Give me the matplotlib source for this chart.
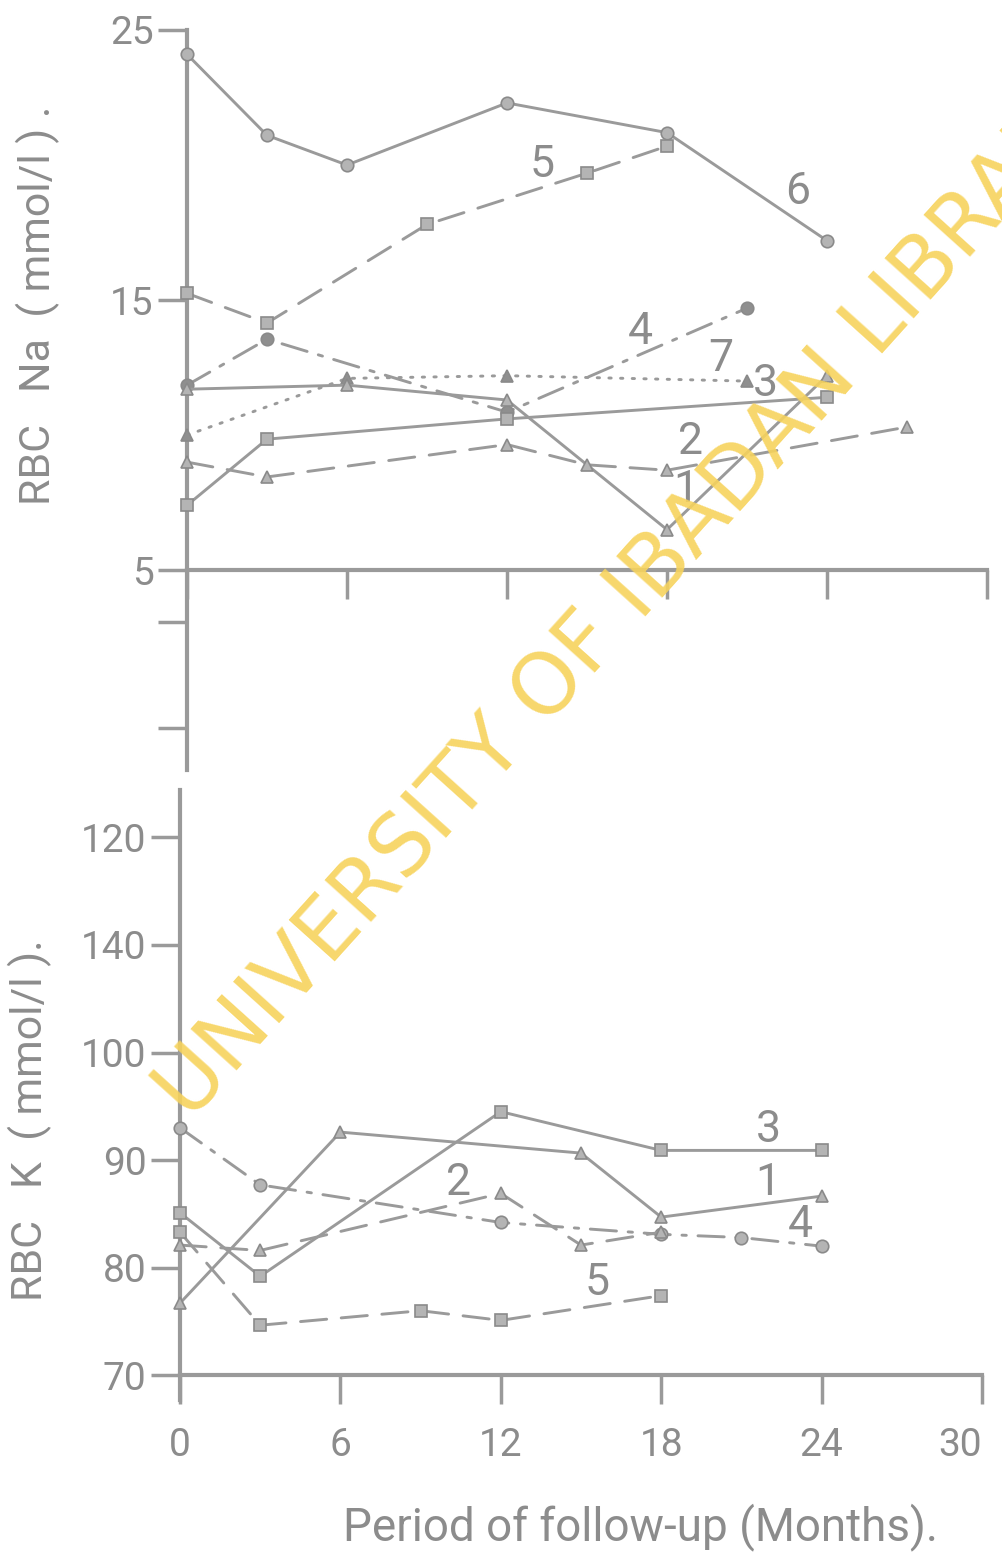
import matplotlib.pyplot as plt

plt.rcParams['font.family'] = ['Roboto', 'DejaVu Sans']

GRAY = '#9a9a9a'
TXT = '#8c8c8c'

# ---- RBC Na (mmol/l) ----
na1_m = [0, 6, 12, 18, 24];          na1 = [11.7, 11.85, 11.3, 6.5, 12.2]
na2_m = [0, 3, 12, 15, 18, 27];      na2 = [9.0, 8.45, 9.65, 8.9, 8.7, 10.3]
na3_m = [0, 3, 12, 24];              na3 = [7.4, 9.85, 10.6, 11.4]
na4_m = [0, 3, 12, 21];              na4 = [11.85, 13.55, 10.85, 14.7]
na5_m = [0, 3, 9, 15, 18];           na5 = [15.25, 14.15, 17.8, 19.7, 20.7]
na6_m = [0, 3, 6, 12, 18, 24];       na6 = [24.1, 21.1, 20.0, 22.3, 21.2, 17.2]
na7_m = [0, 6, 12, 21];              na7 = [10.0, 12.1, 12.2, 12.0]

# ---- RBC K (mmol/l) ----
k1_m = [0, 6, 15, 18, 24];           k1 = [76.7, 92.6, 90.65, 84.7, 86.65]
k2_m = [0, 3, 12, 15, 18];           k2 = [82.1, 81.6, 86.9, 82.1, 83.3]
k3_m = [0, 3, 12, 18, 24];           k3 = [85.1, 79.2, 94.5, 90.9, 90.9]
k4_m = [0, 3, 12, 18, 21, 24];       k4 = [93.0, 87.7, 84.2, 83.1, 82.8, 82.0]
k5_m = [0, 3, 9, 12, 18];            k5 = [83.3, 74.65, 76.0, 75.1, 77.4]

x_ticks = [0, 6, 12, 18, 24, 30]
na_ticks = [25, 15, 5, 3.07, -0.85]
na_ticklabels = ['25', '15', '5', '', '']
k_ticks = [120, 110, 100, 90, 80, 70]
k_ticklabels = ['120', '140', '100', '90', '80', '70']   # as printed

na_labels = [('5', 13.3, 20.0), ('6', 22.9, 19.0), ('4', 17.0, 13.8), ('7', 20.0, 12.8),
             ('3', 21.7, 11.9), ('2', 18.9, 9.75), ('1', 18.7, 7.95)]
k_labels = [('3', 22.0, 92.8), ('1', 22.0, 87.9), ('4', 23.2, 84.0),
            ('2', 10.4, 87.9), ('5', 15.6, 78.6)]

solid = '-'
dashed = (0, (9, 5))
dashdot = (0, (9, 4, 1.5, 4))
dotted = (0, (0.8, 3.2))

W, H = 1003, 1552
fig = plt.figure(figsize=(W / 100, H / 100), dpi=100)


def px_axes(x0, y0, x1, y1):
    return fig.add_axes([x0 / W, 1 - y1 / H, (x1 - x0) / W, (y1 - y0) / H])


def series(ax, m, v, ls, mk, dark=False):
    ax.plot(m, v, linestyle=ls, color=GRAY, lw=2.1, marker=mk, ms=9,
            mfc='#8f8f8f' if dark else '#b4b4b4', mec='#8a8a8a', mew=1.2,
            dash_capstyle='round', clip_on=False, zorder=3)


def style(ax, ybase):
    for s in ['top', 'right']:
        ax.spines[s].set_visible(False)
    ax.spines['bottom'].set_position(('data', ybase))
    for s in ['left', 'bottom']:
        ax.spines[s].set_color(GRAY)
        ax.spines[s].set_linewidth(3)
    ax.set_xlim(0, 30)
    ax.set_xticks(x_ticks)
    ax.tick_params(axis='both', colors=GRAY, width=2.5, length=21,
                   labelcolor=TXT, labelsize=28, pad=3)
    ax.tick_params(axis='x', pad=16)
    ax.patch.set_alpha(0)


# top panel
ax1 = px_axes(187, 30, 987, 770)
ax1.set_ylim(-2.4, 25)
style(ax1, 5)
ax1.set_yticks(na_ticks)
ax1.set_yticklabels(na_ticklabels)
ax1.set_xticklabels([])
series(ax1, na6_m, na6, solid, 'o')
series(ax1, na5_m, na5, dashed, 's')
series(ax1, na4_m, na4, dashdot, 'o', dark=True)
series(ax1, na7_m, na7, dotted, '^', dark=True)
series(ax1, na3_m, na3, solid, 's')
series(ax1, na1_m, na1, solid, '^')
series(ax1, na2_m, na2, dashed, '^')
for t, m, v in na_labels:
    ax1.text(m, v, t, color=TXT, fontsize=32, ha='center', va='center')

# bottom panel
ax2 = px_axes(180, 790, 982, 1400)
ax2.set_ylim(67.7, 124.4)
style(ax2, 70)
ax2.set_yticks(k_ticks)
ax2.set_yticklabels(k_ticklabels)
ax2.get_xticklabels()[-1].set_ha('right')
series(ax2, k3_m, k3, solid, 's')
series(ax2, k1_m, k1, solid, '^')
series(ax2, k4_m, k4, dashdot, 'o')
series(ax2, k2_m, k2, dashed, '^')
series(ax2, k5_m, k5, dashed, 's')
for t, m, v in k_labels:
    ax2.text(m, v, t, color=TXT, fontsize=32, ha='center', va='center')

fig.text(38 / W, 1 - 305 / H, 'RBC   Na  ( mmol/l ) .', rotation=90, color=TXT,
         fontsize=31, ha='center', va='center')
fig.text(30 / W, 1 - 1120 / H, 'RBC   K  ( mmol/l ).', rotation=90, color=TXT,
         fontsize=31, ha='center', va='center')
fig.text(641 / W, 1 - 1527 / H, 'Period of follow-up (Months).', color=TXT,
         fontsize=33, ha='center', va='center')

# watermark
fig.text(190 / W, 1 - 1122 / H, 'UNIVERSITY OF IBADAN LIBRARY', color='#f7d35c',
         alpha=0.9, fontsize=61, family='DejaVu Sans', rotation=48,
         rotation_mode='anchor', ha='left', va='baseline', zorder=10)

fig.savefig('out.png', dpi=100)
